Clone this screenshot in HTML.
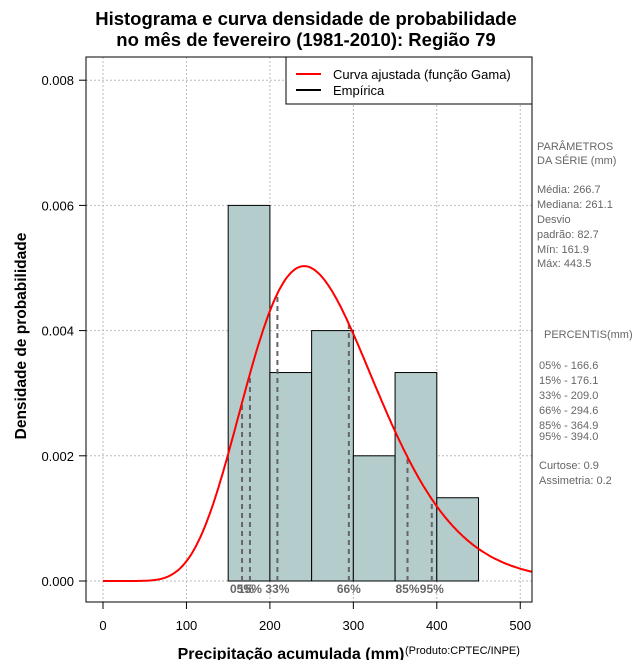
<!DOCTYPE html>
<html><head><meta charset="utf-8"><style>
body{margin:0;background:#fff}
svg text{font-family:"Liberation Sans",sans-serif}
</style></head><body>
<svg width="640" height="660" xmlns="http://www.w3.org/2000/svg">
<g id="root"></g>
</svg>
<script>
const binEdges=[150,200,250,300,350,400,450];
const binDensity=[0.006,0.00333,0.004,0.002,0.00333,0.00133];
const gammaShape=[10.4];
const gammaScale=[25.64];
const pctLabels=["05%","15%","33%","66%","85%","95%"];
const pctValues=[166.6,176.1,209.0,294.6,364.9,394.0];
const xTicks=[0,100,200,300,400,500];
const yTicks=[0,0.002,0.004,0.006,0.008];
const yTickLabels=["0.000","0.002","0.004","0.006","0.008"];

const NS="http://www.w3.org/2000/svg";
const root=document.getElementById('root');
const X=v=>103+v*0.8345;
const Y=v=>581-v*62600;
function mk(tag,attrs,parent){const e=document.createElementNS(NS,tag);for(const k in attrs)e.setAttribute(k,attrs[k]);(parent||root).appendChild(e);return e;}
function lgamma(z){const g=7,c=[0.99999999999980993,676.5203681218851,-1259.1392167224028,771.32342877765313,-176.61502916214059,12.507343278686905,-0.13857109526572012,9.9843695780195716e-6,1.5056327351493116e-7];z-=1;let x=c[0];for(let i=1;i<9;i++)x+=c[i]/(z+i);const t=z+g+0.5;return 0.5*Math.log(2*Math.PI)+(z+0.5)*Math.log(t)-t+Math.log(x);}
function pdf(x){const k=gammaShape[0],th=gammaScale[0];if(x<=0)return 0;return Math.exp((k-1)*Math.log(x)-x/th-lgamma(k)-k*Math.log(th));}

const grid=mk('g',{});
xTicks.forEach(t=>{mk('line',{x1:X(t),x2:X(t),y1:57,y2:602,stroke:'#bbb','stroke-dasharray':'2,2'},grid);});
yTicks.forEach(t=>{mk('line',{x1:86,x2:532,y1:Y(t),y2:Y(t),stroke:'#bbb','stroke-dasharray':'2,2'},grid);});

binDensity.forEach((d,i)=>{const r=mk('rect',{x:X(binEdges[i]),y:Y(d),width:X(binEdges[i+1])-X(binEdges[i]),height:Y(0)-Y(d),fill:'#b4cccc',stroke:'#000','stroke-width':1});
});

pctValues.forEach((p,i)=>{const l=mk('line',{x1:X(p),x2:X(p),y1:Y(0),y2:Y(pdf(p)),stroke:'#666','stroke-width':2,'stroke-dasharray':'5,4'});

const t=mk('text',{x:X(p),y:593,'text-anchor':'middle','font-size':12,'font-weight':'bold',fill:'#666','font-family':'Liberation Serif'});t.textContent=pctLabels[i];
});

let pts=[];for(let x=0;x<=516;x+=2)pts.push(X(x).toFixed(1)+','+Y(pdf(x)).toFixed(1));
const c=mk('polyline',{points:pts.join(' '),fill:'none',stroke:'#f00','stroke-width':2});


mk('rect',{x:532.5,y:50,width:108,height:560,fill:'#fff'});
const box=mk('rect',{x:86,y:57,width:446,height:545,fill:'none',stroke:'#000'});

xTicks.forEach(t=>{mk('line',{x1:X(t),x2:X(t),y1:602,y2:609,stroke:'#000'});
const tx=mk('text',{x:X(t),y:630,'text-anchor':'middle','font-size':13});tx.textContent=t;});
yTicks.forEach((t,i)=>{mk('line',{x1:79,x2:86,y1:Y(t),y2:Y(t),stroke:'#000'});
const tx=mk('text',{x:74,y:Y(t)+5,'text-anchor':'end','font-size':13});tx.textContent=yTickLabels[i];});

function txt(s,a,name){const t=mk('text',a);t.textContent=s;return t;}
txt('Histograma e curva densidade de probabilidade',{x:306,y:25,'text-anchor':'middle','font-size':18.5,'font-weight':'bold'},'chart-title');
txt('no mês de fevereiro (1981-2010): Região 79',{x:306,y:46,'text-anchor':'middle','font-size':18.5,'font-weight':'bold'},'chart-subtitle');
txt('Precipitação acumulada (mm)',{x:291,y:659,'text-anchor':'middle','font-size':16,'font-weight':'bold'},'x-axis-title');
txt('(Produto:CPTEC/INPE)',{x:405,y:654,'font-size':11},'credit');
txt('Densidade de probabilidade',{x:0,y:0,'text-anchor':'middle','font-size':15.5,'font-weight':'bold',transform:'translate(26,336) rotate(-90)'},'y-axis-title');

const lg=mk('g',{});
mk('rect',{x:286,y:57,width:246,height:47,fill:'#fff',stroke:'#000'},lg);
mk('line',{x1:296,x2:321,y1:74,y2:74,stroke:'#f00','stroke-width':2},lg);
mk('line',{x1:296,x2:321,y1:90,y2:90,stroke:'#000','stroke-width':2},lg);
txt('Curva ajustada (função Gama)',{x:333,y:79,'font-size':13},'legend-entry-curve');
txt('Empírica',{x:333,y:95,'font-size':13},'legend-entry-empirical');

const side=[["PARÂMETROS",150,537],[" DA SÉRIE (mm)",164,537],["Média:  266.7",193,537],["Mediana:  261.1",208,537],["Desvio",223,537],["padrão:  82.7",238,537],["Mín:  161.9",253,537],["Máx:  443.5",267,537],
["PERCENTIS(mm)",338,544],["05% -  166.6",369,539],["15% -  176.1",384,539],["33% -  209.0",399,539],["66% -  294.6",414,539],["85% -  364.9",429,539],["95% -  394.0",440,539],["Curtose:  0.9",469,539],["Assimetria:  0.2",484,539]];
side.forEach(s=>{txt(s[0],{x:s[2],y:s[1],'font-size':11,fill:'#666','xml:space':'preserve'},'stats-text');});
</script>
</body></html>
